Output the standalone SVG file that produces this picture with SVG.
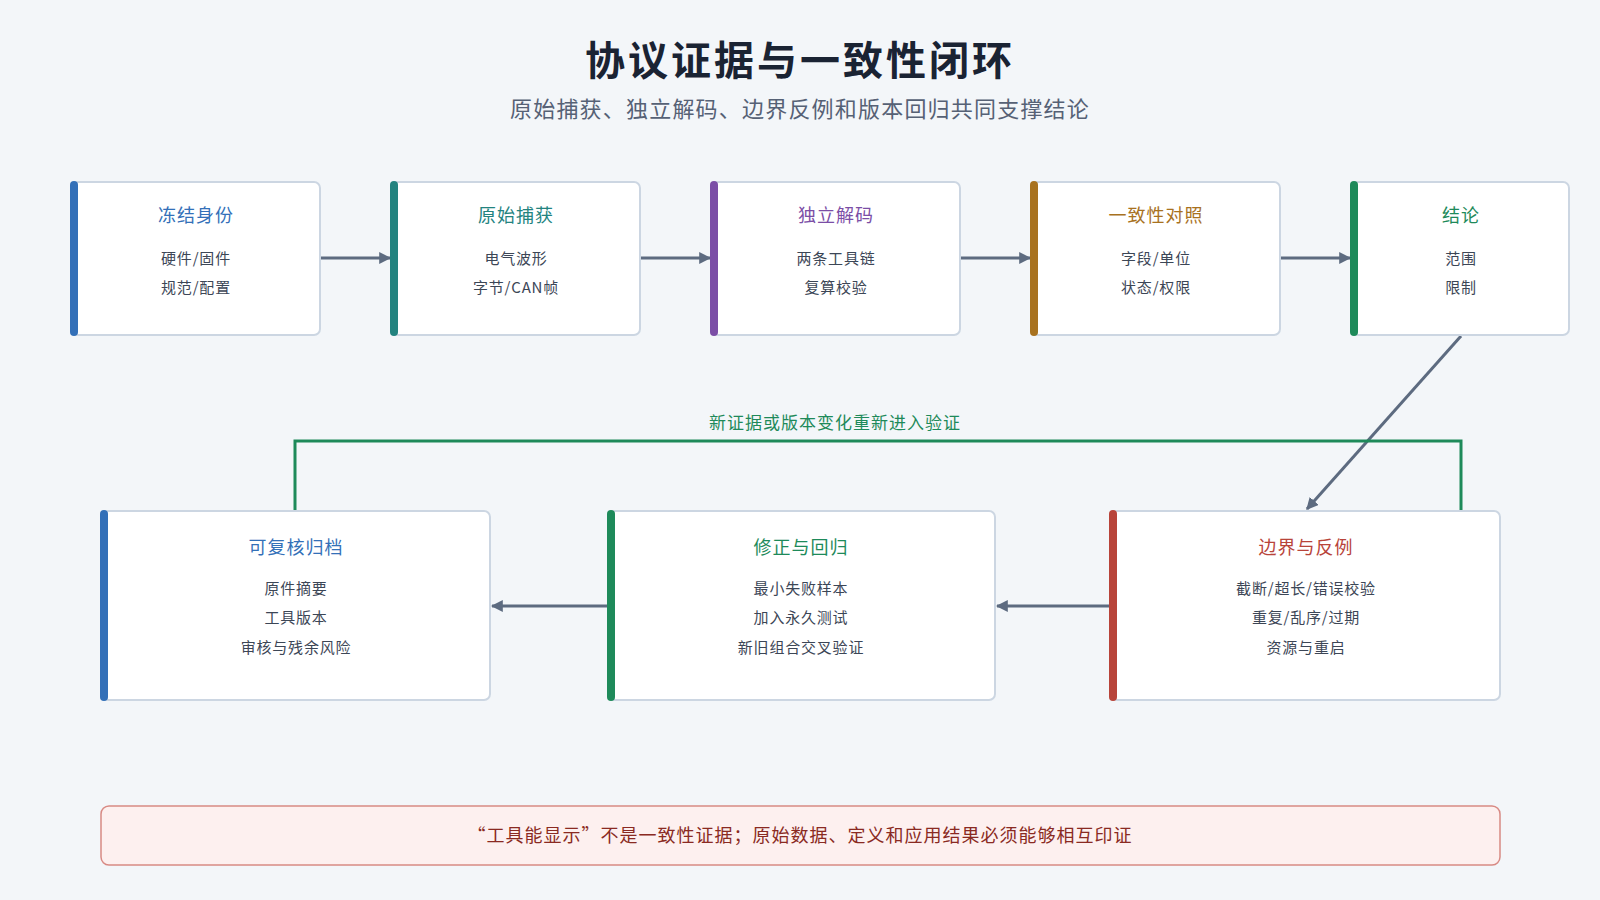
<svg xmlns="http://www.w3.org/2000/svg" width="1600" height="900" viewBox="0 0 1600 900">
<defs>
<style>
text{font-family:"Noto Sans CJK SC","Noto Sans",sans-serif;text-anchor:middle}
.box{fill:#fff;stroke:#ccd6e2;stroke-width:2}
.t{font-size:18px;font-weight:400;letter-spacing:1px}
.l{font-size:15px;fill:#3c4656;letter-spacing:0.8px}
.c{fill:none;stroke:#5d6b80;stroke-width:3}
</style>
<marker id="a" viewBox="0 0 10 10" refX="9" refY="5" markerWidth="4" markerHeight="4" orient="auto"><path d="M0,0L10,5L0,10z" fill="#5d6b80"/></marker>
</defs>
<rect width="1600" height="900" fill="#f3f6f9"/>
<text x="800" y="75" font-size="40" font-weight="600" letter-spacing="3" fill="#1a2333">协议证据与一致性闭环</text>
<text x="800" y="117" font-size="22" letter-spacing="1.2" fill="#566175">原始捕获、独立解码、边界反例和版本回归共同支撑结论</text>
<g id="connectors">
<line class="c" x1="320" y1="258" x2="390" y2="258" marker-end="url(#a)"/>
<line class="c" x1="640" y1="258" x2="710" y2="258" marker-end="url(#a)"/>
<line class="c" x1="960" y1="258" x2="1030" y2="258" marker-end="url(#a)"/>
<line class="c" x1="1280" y1="258" x2="1350" y2="258" marker-end="url(#a)"/>
<line class="c" x1="1461" y1="336" x2="1307" y2="509" marker-end="url(#a)"/>
<line class="c" x1="1111" y1="606" x2="997" y2="606" marker-end="url(#a)"/>
<line class="c" x1="609" y1="606" x2="492" y2="606" marker-end="url(#a)"/>
<path d="M295,511V441H1461V511" fill="none" stroke="#1e8a5a" stroke-width="3"/>
<text x="835" y="429" font-size="17" letter-spacing="1" fill="#1e8a5a">新证据或版本变化重新进入验证</text>
</g>
<g id="n1"><rect class="box" x="72" y="182" width="248" height="153" rx="6"/><rect x="70" y="181" width="8" height="155" rx="4" fill="#3370b8"/><text class="t" x="196" y="222" fill="#3370b8">冻结身份</text><text class="l" x="196" y="264">硬件/固件</text><text class="l" x="196" y="293">规范/配置</text></g>
<g id="n2"><rect class="box" x="392" y="182" width="248" height="153" rx="6"/><rect x="390" y="181" width="8" height="155" rx="4" fill="#23837f"/><text class="t" x="516" y="222" fill="#23837f">原始捕获</text><text class="l" x="516" y="264">电气波形</text><text class="l" x="516" y="293">字节/CAN帧</text></g>
<g id="n3"><rect class="box" x="712" y="182" width="248" height="153" rx="6"/><rect x="710" y="181" width="8" height="155" rx="4" fill="#7b4ea6"/><text class="t" x="836" y="222" fill="#7b4ea6">独立解码</text><text class="l" x="836" y="264">两条工具链</text><text class="l" x="836" y="293">复算校验</text></g>
<g id="n4"><rect class="box" x="1032" y="182" width="248" height="153" rx="6"/><rect x="1030" y="181" width="8" height="155" rx="4" fill="#a8721f"/><text class="t" x="1156" y="222" fill="#a8721f">一致性对照</text><text class="l" x="1156" y="264">字段/单位</text><text class="l" x="1156" y="293">状态/权限</text></g>
<g id="n5"><rect class="box" x="1352" y="182" width="217" height="153" rx="6"/><rect x="1350" y="181" width="8" height="155" rx="4" fill="#1e8a5a"/><text class="t" x="1461" y="222" fill="#1e8a5a">结论</text><text class="l" x="1461" y="264">范围</text><text class="l" x="1461" y="293">限制</text></g>
<g id="n6"><rect class="box" x="1111" y="511" width="389" height="189" rx="6"/><rect x="1109" y="510" width="8" height="191" rx="4" fill="#b8443a"/><text class="t" x="1306" y="554" fill="#b8443a">边界与反例</text><text class="l" x="1306" y="594">截断/超长/错误校验</text><text class="l" x="1306" y="623">重复/乱序/过期</text><text class="l" x="1306" y="653">资源与重启</text></g>
<g id="n7"><rect class="box" x="609" y="511" width="386" height="189" rx="6"/><rect x="607" y="510" width="8" height="191" rx="4" fill="#1e8a5a"/><text class="t" x="801" y="554" fill="#1e8a5a">修正与回归</text><text class="l" x="801" y="594">最小失败样本</text><text class="l" x="801" y="623">加入永久测试</text><text class="l" x="801" y="653">新旧组合交叉验证</text></g>
<g id="n8"><rect class="box" x="102" y="511" width="388" height="189" rx="6"/><rect x="100" y="510" width="8" height="191" rx="4" fill="#3370b8"/><text class="t" x="296" y="554" fill="#3370b8">可复核归档</text><text class="l" x="296" y="594">原件摘要</text><text class="l" x="296" y="623">工具版本</text><text class="l" x="296" y="653">审核与残余风险</text></g>
<g id="note"><rect x="101" y="806" width="1399" height="59" rx="8" fill="#fdf0ef" stroke="#d88a84" stroke-width="1.5"/><text x="800" y="842" font-size="18" letter-spacing="1" fill="#8a2a22">“工具能显示”不是一致性证据；原始数据、定义和应用结果必须能够相互印证</text></g>
</svg>
